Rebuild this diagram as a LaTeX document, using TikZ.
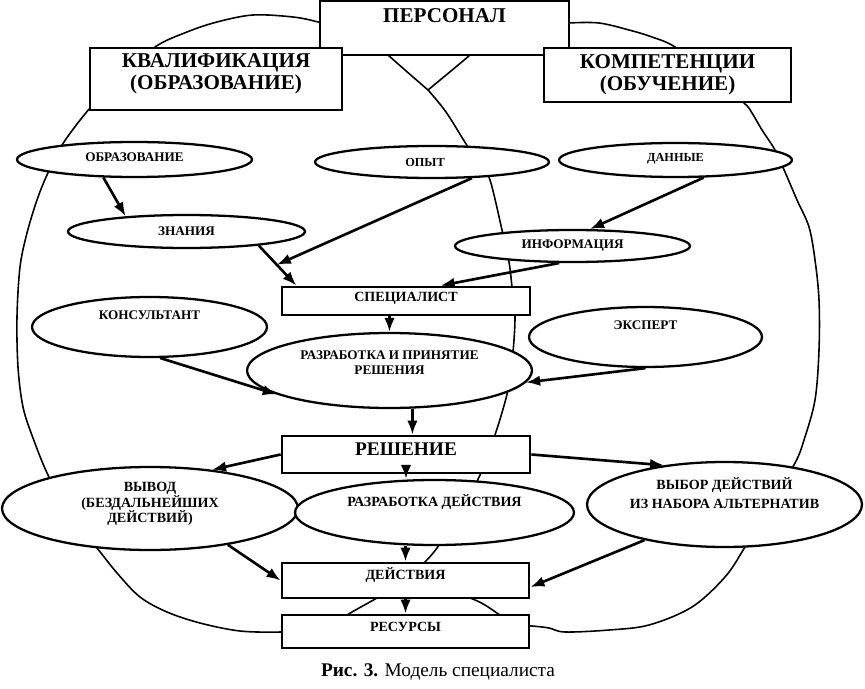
\documentclass[tikz,border=0pt]{standalone}
\usepackage{fontspec}
\setmainfont{Liberation Serif}
\usepackage{tikz}
\usetikzlibrary{shapes.geometric, arrows.meta, calc}

\begin{document}
\begin{tikzpicture}[
    x=0.02cm, y=-0.02cm,
    box/.style={draw, line width=1.6pt, fill=white, inner sep=1pt, align=center, font=\bfseries\fontsize{8}{9}\selectfont},
    head/.style={font=\bfseries\fontsize{12}{12.5}\selectfont},
    oval/.style={ellipse, draw, line width=1.3pt, fill=white, inner sep=0pt, align=center, font=\bfseries\fontsize{7.5}{8.5}\selectfont},
    arrow/.style={->, line width=1.5pt, >={Latex[length=8pt,width=6pt]}},
    loopline/.style={line width=0.9pt, smooth, tension=0.55}
]
    \useasboundingbox (0,0) rectangle (865,689);

    % Two loops with the shared middle line
    \draw[loopline] plot coordinates {(335,28) (318,22) (293,17) (253,15) (217,22) (187,32) (155,47) (120,78) (90,108) (62,145) (47,175) (37,200) (27,233) (20,267) (17,317) (18,367) (23,407) (33,438) (48,475) (70,515) (97,548) (117,573) (140,597) (167,612) (200,623) (240,631) (282,632) (320,630)};
    \draw[loopline] plot coordinates {(560,25) (569,23) (599,23) (629,30) (652,37) (675,47) (710,75) (744,103) (752,113) (762,130) (775,150) (785,172) (797,200) (809,227) (815,260) (819,300) (819,350) (815,400) (804,440) (795,463) (770,505) (745,547) (725,577) (692,607) (649,625) (609,630) (565,632) (549,628) (532,626) (515,625)};
    \draw[loopline] plot coordinates {(380,46) (388,55) (428,90)};
    \draw[loopline] plot coordinates {(478,46) (470,55) (428,90)};
    \draw[loopline] plot coordinates {(428,90) (446,112) (468,147) (480,163) (490,180) (502,230) (509,262) (512,287) (515,315) (513,352) (508,390) (495,435) (480,475) (460,512) (437,548) (420,567) (404,582)};
    \draw[loopline] plot coordinates {(404,582) (377,598) (347,615) (335,625)};
    \draw[loopline] plot coordinates {(404,582) (470,598) (500,615) (515,625)};

    % Top boxes
    \node[box, head, minimum width=4.98cm, minimum height=1.08cm, text depth=14pt] (pers) at (444.5,28) {ПЕРСОНАЛ};
    \node[box, head, minimum width=5.04cm, minimum height=1.24cm, text depth=8pt] (kval) at (216,79) {КВАЛИФИКАЦИЯ\\(ОБРАЗОВАНИЕ)};
    \node[box, head, minimum width=4.94cm, minimum height=1.08cm] (komp) at (667.5,75) {КОМПЕТЕНЦИИ\\(ОБУЧЕНИЕ)};

    % Sources
    \node[oval, minimum width=4.7cm, minimum height=0.7cm, text depth=3pt] (obraz) at (134.5,159.5) {ОБРАЗОВАНИЕ};
    \node[oval, minimum width=4.68cm, minimum height=0.64cm, font=\bfseries\fontsize{7}{8}\selectfont] (opyt) at (432,162) {ОПЫТ\hspace{0.28cm}};
    \node[oval, minimum width=4.66cm, minimum height=0.68cm, text depth=3.4pt, font=\bfseries\fontsize{7}{8}\selectfont] (dannye) at (675.5,160) {ДАННЫЕ};
    \node[oval, minimum width=4.74cm, minimum height=0.66cm] (znaniya) at (186.5,231.5) {ЗНАНИЯ};
    \node[oval, minimum width=4.7cm, minimum height=0.64cm, text depth=2pt] (inform) at (572.5,246) {ИНФОРМАЦИЯ};

    % Specialist
    \node[box, minimum width=4.96cm, minimum height=0.56cm, text depth=4.5pt] (spec) at (406,301) {СПЕЦИАЛИСТ};
    \node[oval, minimum width=4.7cm, minimum height=1.2cm, text depth=13.6pt] (konsult) at (149.5,327) {КОНСУЛЬТАНТ};
    \node[oval, minimum width=4.66cm, minimum height=1.2cm, text depth=13.6pt] (ekspert) at (645.5,337) {ЭКСПЕРТ};
    \node[oval, minimum width=5.7cm, minimum height=1.5cm, text depth=9pt] (razrab) at (389.5,370.5) {РАЗРАБОТКА И ПРИНЯТИЕ\\РЕШЕНИЯ};

    % Decision
    \node[box, minimum width=4.96cm, minimum height=0.74cm, text depth=6.2pt, font=\bfseries\fontsize{11}{12}\selectfont] (resh) at (406,454.5) {РЕШЕНИЕ};
    \node[oval, minimum width=5.92cm, minimum height=1.66cm, text depth=7pt, font=\bfseries\fontsize{8}{9}\selectfont] (vyvod) at (150,508.5) {ВЫВОД\\(БЕЗДАЛЬНЕЙШИХ\\ДЕЙСТВИЙ)};
    \node[oval, minimum width=5.58cm, minimum height=1.3cm, text depth=14pt, font=\bfseries\fontsize{8}{9}\selectfont] (razrdey) at (434.5,512.5) {РАЗРАБОТКА ДЕЙСТВИЯ};
    \node[oval, minimum width=5.5cm, minimum height=1.7cm, text depth=13.6pt, font=\bfseries\fontsize{8}{10.8}\selectfont] (vybor) at (724.5,504.5) {ВЫБОР ДЕЙСТВИЙ\\ИЗ НАБОРА АЛЬТЕРНАТИВ};

    % Bottom boxes
    \node[box, minimum width=4.94cm, minimum height=0.7cm, text depth=8.5pt] (deyst) at (405.5,580.5) {ДЕЙСТВИЯ};
    \node[box, minimum width=4.94cm, minimum height=0.66cm, text depth=5pt] (res) at (405.5,631.5) {РЕСУРСЫ};

    % Arrows
    \draw[arrow] (obraz.210) -- (znaniya.166);
    \draw[arrow] (znaniya.-11) -- coordinate[pos=0.48] (joinpt) (spec.172);
    \draw[arrow] (opyt.-22) -- (joinpt);
    \draw[arrow] (dannye.-32) -- (inform.44);
    \draw[arrow] (inform.232) -- (spec.24);
    \draw[arrow] (spec.south -| razrab.north) -- (razrab.north);
    \draw[arrow] (konsult.-71) -- (razrab.192);
    \draw[arrow] (ekspert.south) -- (razrab.-5);
    \draw[arrow] (razrab.-59) -- (razrab.-59 |- resh.north);
    \draw[arrow] (resh.west) -- (vyvod.32);
    \draw[arrow] (resh.south) -- (resh.south |- razrdey.north);
    \draw[arrow] (resh.east) -- (vybor.147);
    \draw[arrow] (vyvod.-25) -- (deyst.west);
    \draw[arrow] (razrdey.south -| deyst.north) -- (deyst.north);
    \draw[arrow] (vybor.204) -- (deyst.-3);
    \draw[arrow] (deyst.south) -- (res.north);

    % Caption
    \node[font=\fontsize{11}{13}\selectfont] (fig) at (438,672) {\textbf{Рис. 3.} Модель специалиста};
\end{tikzpicture}
\end{document}
